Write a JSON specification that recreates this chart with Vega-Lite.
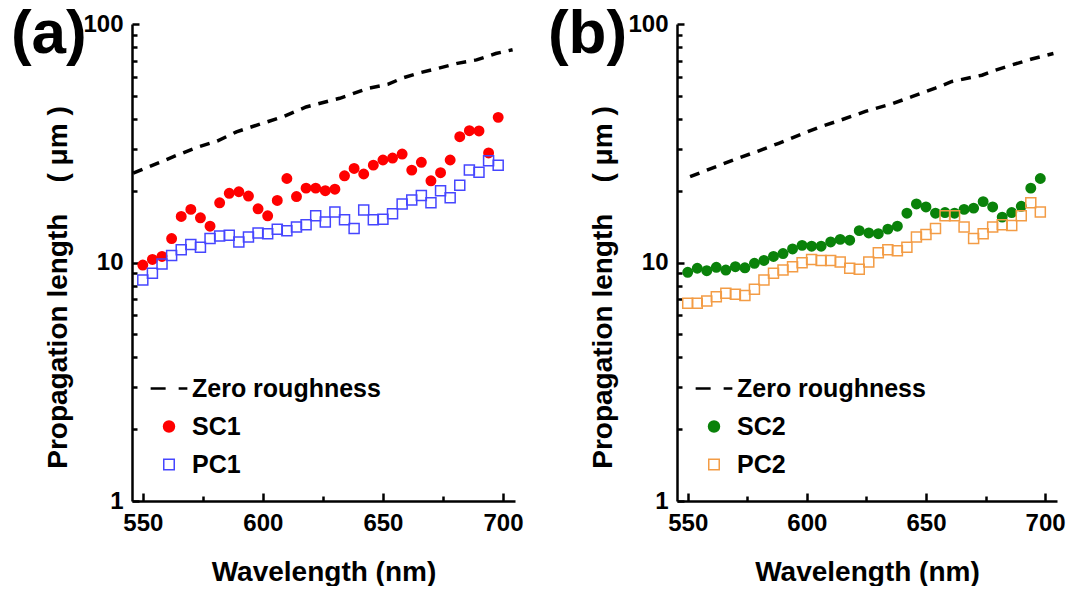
{
  "$schema": "https://vega.github.io/schema/vega-lite/v6.json",
  "padding": {"left": 10, "top": 3, "right": 0, "bottom": 0},
  "background": "white",
  "datasets": {
    "a": [
      {"s": "Zero roughness", "wl": 546, "v": 23.7}, {"s": "Zero roughness", "wl": 555, "v": 25.8}, {"s": "Zero roughness", "wl": 564, "v": 28.1}, {"s": "Zero roughness", "wl": 573, "v": 30.5}, {"s": "Zero roughness", "wl": 581, "v": 32.3}, {"s": "Zero roughness", "wl": 589, "v": 35.3}, {"s": "Zero roughness", "wl": 599, "v": 38.1}, {"s": "Zero roughness", "wl": 608, "v": 40.7}, {"s": "Zero roughness", "wl": 618, "v": 44.9}, {"s": "Zero roughness", "wl": 632, "v": 48.8}, {"s": "Zero roughness", "wl": 644, "v": 53.8}, {"s": "Zero roughness", "wl": 652, "v": 55.8}, {"s": "Zero roughness", "wl": 658, "v": 59.3}, {"s": "Zero roughness", "wl": 665, "v": 62.3}, {"s": "Zero roughness", "wl": 672, "v": 64.8}, {"s": "Zero roughness", "wl": 681, "v": 68.4}, {"s": "Zero roughness", "wl": 689, "v": 70.7}, {"s": "Zero roughness", "wl": 697, "v": 75.2}, {"s": "Zero roughness", "wl": 704, "v": 78.0},
      {"s": "SC1", "wl": 550, "v": 9.76}, {"s": "SC1", "wl": 554, "v": 10.3}, {"s": "SC1", "wl": 558, "v": 10.6}, {"s": "SC1", "wl": 562, "v": 12.6}, {"s": "SC1", "wl": 566, "v": 15.6}, {"s": "SC1", "wl": 570, "v": 16.7}, {"s": "SC1", "wl": 574, "v": 15.4}, {"s": "SC1", "wl": 578, "v": 14.2}, {"s": "SC1", "wl": 582, "v": 17.8}, {"s": "SC1", "wl": 586, "v": 19.5}, {"s": "SC1", "wl": 590, "v": 19.8}, {"s": "SC1", "wl": 594, "v": 19.0}, {"s": "SC1", "wl": 598, "v": 16.8}, {"s": "SC1", "wl": 602, "v": 15.7}, {"s": "SC1", "wl": 606, "v": 18.2}, {"s": "SC1", "wl": 610, "v": 22.5}, {"s": "SC1", "wl": 614, "v": 18.9}, {"s": "SC1", "wl": 618, "v": 20.5}, {"s": "SC1", "wl": 622, "v": 20.5}, {"s": "SC1", "wl": 626, "v": 20.0}, {"s": "SC1", "wl": 630, "v": 20.3}, {"s": "SC1", "wl": 634, "v": 23.1}, {"s": "SC1", "wl": 638, "v": 24.8}, {"s": "SC1", "wl": 642, "v": 23.5}, {"s": "SC1", "wl": 646, "v": 25.6}, {"s": "SC1", "wl": 650, "v": 26.9}, {"s": "SC1", "wl": 654, "v": 27.4}, {"s": "SC1", "wl": 658, "v": 28.5}, {"s": "SC1", "wl": 662, "v": 24.4}, {"s": "SC1", "wl": 666, "v": 26.3}, {"s": "SC1", "wl": 670, "v": 22.0}, {"s": "SC1", "wl": 674, "v": 23.8}, {"s": "SC1", "wl": 678, "v": 26.9}, {"s": "SC1", "wl": 682, "v": 33.7}, {"s": "SC1", "wl": 686, "v": 35.7}, {"s": "SC1", "wl": 690, "v": 35.6}, {"s": "SC1", "wl": 694, "v": 28.8}, {"s": "SC1", "wl": 698, "v": 40.6},
      {"s": "PC1", "wl": 550, "v": 8.45}, {"s": "PC1", "wl": 554, "v": 9.01}, {"s": "PC1", "wl": 558, "v": 9.86}, {"s": "PC1", "wl": 562, "v": 10.7}, {"s": "PC1", "wl": 566, "v": 11.3}, {"s": "PC1", "wl": 570, "v": 11.9}, {"s": "PC1", "wl": 574, "v": 11.6}, {"s": "PC1", "wl": 578, "v": 12.6}, {"s": "PC1", "wl": 582, "v": 12.9}, {"s": "PC1", "wl": 586, "v": 13.0}, {"s": "PC1", "wl": 590, "v": 12.2}, {"s": "PC1", "wl": 594, "v": 12.8}, {"s": "PC1", "wl": 598, "v": 13.3}, {"s": "PC1", "wl": 602, "v": 13.2}, {"s": "PC1", "wl": 606, "v": 13.8}, {"s": "PC1", "wl": 610, "v": 13.6}, {"s": "PC1", "wl": 614, "v": 14.1}, {"s": "PC1", "wl": 618, "v": 14.4}, {"s": "PC1", "wl": 622, "v": 15.7}, {"s": "PC1", "wl": 626, "v": 14.8}, {"s": "PC1", "wl": 630, "v": 16.3}, {"s": "PC1", "wl": 634, "v": 15.1}, {"s": "PC1", "wl": 638, "v": 13.9}, {"s": "PC1", "wl": 642, "v": 16.6}, {"s": "PC1", "wl": 646, "v": 15.1}, {"s": "PC1", "wl": 650, "v": 15.2}, {"s": "PC1", "wl": 654, "v": 16.0}, {"s": "PC1", "wl": 658, "v": 17.6}, {"s": "PC1", "wl": 662, "v": 18.3}, {"s": "PC1", "wl": 666, "v": 19.1}, {"s": "PC1", "wl": 670, "v": 17.8}, {"s": "PC1", "wl": 674, "v": 20.0}, {"s": "PC1", "wl": 678, "v": 18.7}, {"s": "PC1", "wl": 682, "v": 21.1}, {"s": "PC1", "wl": 686, "v": 24.4}, {"s": "PC1", "wl": 690, "v": 23.9}, {"s": "PC1", "wl": 694, "v": 26.7}, {"s": "PC1", "wl": 698, "v": 25.6}
    ],
    "b": [
      {"s": "Zero roughness", "wl": 551, "v": 22.9}, {"s": "Zero roughness", "wl": 561.7, "v": 25.2}, {"s": "Zero roughness", "wl": 570.8, "v": 27.3}, {"s": "Zero roughness", "wl": 579.9, "v": 29.4}, {"s": "Zero roughness", "wl": 588.2, "v": 31.6}, {"s": "Zero roughness", "wl": 598, "v": 34.6}, {"s": "Zero roughness", "wl": 605.7, "v": 37.1}, {"s": "Zero roughness", "wl": 614.1, "v": 39.5}, {"s": "Zero roughness", "wl": 624.6, "v": 43.0}, {"s": "Zero roughness", "wl": 635.8, "v": 46.3}, {"s": "Zero roughness", "wl": 644.1, "v": 49.6}, {"s": "Zero roughness", "wl": 653.9, "v": 53.8}, {"s": "Zero roughness", "wl": 660.9, "v": 57.4}, {"s": "Zero roughness", "wl": 673.5, "v": 61.0}, {"s": "Zero roughness", "wl": 679, "v": 64.0}, {"s": "Zero roughness", "wl": 686, "v": 67.3}, {"s": "Zero roughness", "wl": 694.4, "v": 71.3}, {"s": "Zero roughness", "wl": 703.5, "v": 75.2},
      {"s": "SC2", "wl": 550, "v": 9.1}, {"s": "SC2", "wl": 554, "v": 9.46}, {"s": "SC2", "wl": 558, "v": 9.24}, {"s": "SC2", "wl": 562, "v": 9.55}, {"s": "SC2", "wl": 566, "v": 9.3}, {"s": "SC2", "wl": 570, "v": 9.6}, {"s": "SC2", "wl": 574, "v": 9.5}, {"s": "SC2", "wl": 578, "v": 9.92}, {"s": "SC2", "wl": 582, "v": 10.2}, {"s": "SC2", "wl": 586, "v": 10.6}, {"s": "SC2", "wl": 590, "v": 10.9}, {"s": "SC2", "wl": 594, "v": 11.4}, {"s": "SC2", "wl": 598, "v": 11.8}, {"s": "SC2", "wl": 602, "v": 11.7}, {"s": "SC2", "wl": 606, "v": 11.7}, {"s": "SC2", "wl": 610, "v": 12.2}, {"s": "SC2", "wl": 614, "v": 12.5}, {"s": "SC2", "wl": 618, "v": 12.4}, {"s": "SC2", "wl": 622, "v": 13.6}, {"s": "SC2", "wl": 626, "v": 13.3}, {"s": "SC2", "wl": 630, "v": 13.2}, {"s": "SC2", "wl": 634, "v": 13.8}, {"s": "SC2", "wl": 638, "v": 14.2}, {"s": "SC2", "wl": 642, "v": 16.1}, {"s": "SC2", "wl": 646, "v": 17.6}, {"s": "SC2", "wl": 650, "v": 17.1}, {"s": "SC2", "wl": 654, "v": 16.1}, {"s": "SC2", "wl": 658, "v": 16.2}, {"s": "SC2", "wl": 662, "v": 16.1}, {"s": "SC2", "wl": 666, "v": 16.7}, {"s": "SC2", "wl": 670, "v": 16.9}, {"s": "SC2", "wl": 674, "v": 18.0}, {"s": "SC2", "wl": 678, "v": 17.1}, {"s": "SC2", "wl": 682, "v": 15.5}, {"s": "SC2", "wl": 686, "v": 16.2}, {"s": "SC2", "wl": 690, "v": 17.2}, {"s": "SC2", "wl": 694, "v": 20.5}, {"s": "SC2", "wl": 698, "v": 22.5},
      {"s": "PC2", "wl": 550, "v": 6.75}, {"s": "PC2", "wl": 554, "v": 6.75}, {"s": "PC2", "wl": 558, "v": 6.9}, {"s": "PC2", "wl": 562, "v": 7.19}, {"s": "PC2", "wl": 566, "v": 7.43}, {"s": "PC2", "wl": 570, "v": 7.36}, {"s": "PC2", "wl": 574, "v": 7.27}, {"s": "PC2", "wl": 578, "v": 7.72}, {"s": "PC2", "wl": 582, "v": 8.45}, {"s": "PC2", "wl": 586, "v": 9.01}, {"s": "PC2", "wl": 590, "v": 9.3}, {"s": "PC2", "wl": 594, "v": 9.6}, {"s": "PC2", "wl": 598, "v": 9.98}, {"s": "PC2", "wl": 602, "v": 10.3}, {"s": "PC2", "wl": 606, "v": 10.2}, {"s": "PC2", "wl": 610, "v": 10.2}, {"s": "PC2", "wl": 614, "v": 10.06}, {"s": "PC2", "wl": 618, "v": 9.46}, {"s": "PC2", "wl": 622, "v": 9.37}, {"s": "PC2", "wl": 626, "v": 10.06}, {"s": "PC2", "wl": 630, "v": 11.0}, {"s": "PC2", "wl": 634, "v": 11.3}, {"s": "PC2", "wl": 638, "v": 11.2}, {"s": "PC2", "wl": 642, "v": 11.6}, {"s": "PC2", "wl": 646, "v": 12.8}, {"s": "PC2", "wl": 650, "v": 13.1}, {"s": "PC2", "wl": 654, "v": 13.9}, {"s": "PC2", "wl": 658, "v": 15.7}, {"s": "PC2", "wl": 662, "v": 15.7}, {"s": "PC2", "wl": 666, "v": 14.1}, {"s": "PC2", "wl": 670, "v": 12.6}, {"s": "PC2", "wl": 674, "v": 13.2}, {"s": "PC2", "wl": 678, "v": 14.1}, {"s": "PC2", "wl": 682, "v": 14.4}, {"s": "PC2", "wl": 686, "v": 14.3}, {"s": "PC2", "wl": 690, "v": 15.7}, {"s": "PC2", "wl": 694, "v": 17.8}, {"s": "PC2", "wl": 698, "v": 16.3}
    ]
  },
  "config": {
    "font": "Liberation Sans",
    "view": {"stroke": null},
    "axis": {
      "grid": false, "domainColor": "black", "domainWidth": 2.5, "tickColor": "black", "tickWidth": 2.5,
      "labelColor": "black", "labelFontSize": 24, "labelFontWeight": "bold", "labelFont": "Liberation Sans",
      "titleColor": "black", "titleFontSize": 28, "titleFontWeight": "bold", "titleFont": "Liberation Sans",
      "labelFlush": false, "labelOverlap": false
    },
    "legend": {
      "orient": "none", "padding": 0, "symbolSize": 110, "labelLimit": 400,
      "labelFontSize": 25, "labelFontWeight": "bold", "labelColor": "black", "labelFont": "Liberation Sans",
      "labelOffset": 10.5, "rowPadding": 12, "legendX": 24.5, "legendY": 352
    },
    "title": {"fontSize": 62, "fontWeight": "bold", "color": "black", "font": "Liberation Sans", "anchor": "start", "frame": "bounds", "offset": 0}
  },
  "spacing": 23,
  "resolve": {
    "scale": {"fill": "independent", "stroke": "independent", "shape": "independent", "strokeWidth": "independent", "strokeDash": "independent"},
    "legend": {"fill": "independent", "stroke": "independent", "shape": "independent", "strokeWidth": "independent", "strokeDash": "independent"}
  },
  "hconcat": [
    {
      "width": 383, "height": 477,
      "title": {"text": "(a)", "dx": -34, "dy": 58},
      "data": {"name": "a"},
      "encoding": {
        "x": {"field": "wl", "type": "quantitative", "scale": {"domain": [545.5, 705], "nice": false, "zero": false},
          "axis": {"title": "Wavelength (nm)", "values": [550, 575, 600, 625, 650, 675, 700], "format": "d",
            "labelExpr": "datum.value % 50 == 0 ? datum.label : ''",
            "tickSize": {"condition": {"test": "datum.value % 50 == 0", "value": -8}, "value": -5},
            "labelPadding": 18, "titlePadding": 20}},
        "y": {"field": "v", "type": "quantitative", "scale": {"type": "log", "domain": [1, 100], "nice": false},
          "axis": {"title": "Propagation length\u00a0\u00a0\u00a0\u00a0(\u00a0μm\u00a0)", "values": [1, 2, 3, 4, 5, 6, 7, 8, 9, 10, 20, 30, 40, 50, 60, 70, 80, 90, 100], "format": "d",
            "labelExpr": "datum.value == 1 || datum.value == 10 || datum.value == 100 ? datum.label : ''",
            "tickSize": {"condition": {"test": "datum.value == 1 || datum.value == 10 || datum.value == 100", "value": -7}, "value": -5},
            "labelPadding": 16, "titlePadding": 10, "titleY": 263}},
        "stroke": {"field": "s", "type": "nominal", "title": null,
          "scale": {"domain": ["Zero roughness", "SC1", "PC1"], "range": ["black", "#ff0000", "#4646ff"]}}
      },
      "layer": [
        {"transform": [{"filter": "datum.s == 'SC1'"}], "mark": {"type": "point", "size": 80, "opacity": 1},
          "encoding": {
            "fill": {"field": "s", "type": "nominal", "title": null,
              "scale": {"domain": ["Zero roughness", "SC1", "PC1"], "range": ["transparent", "#ff0000", "transparent"]}},
            "shape": {"field": "s", "type": "nominal", "title": null,
              "scale": {"domain": ["Zero roughness", "SC1", "PC1"], "range": ["M-3.5,0H-0.64M1.84,0H3.5", "circle", "square"]}},
            "strokeWidth": {"field": "s", "type": "nominal", "title": null,
              "scale": {"domain": ["Zero roughness", "SC1", "PC1"], "range": [2.5, 1.5], "padding": 0}}
          }},
        {"transform": [{"filter": "datum.s == 'PC1'"}], "mark": {"type": "point", "size": 100, "opacity": 1},
          "encoding": {
            "fill": {"field": "s", "type": "nominal", "title": null},
            "shape": {"field": "s", "type": "nominal", "title": null},
            "strokeWidth": {"field": "s", "type": "nominal", "title": null}
          }},
        {"transform": [{"filter": "datum.s == 'Zero roughness'"}], "mark": {"type": "line", "strokeWidth": 3.5, "strokeDash": [10, 8]}}
      ]
    },
    {
      "width": 380, "height": 477,
      "title": {"text": "(b)", "dx": -42, "dy": 58},
      "data": {"name": "b"},
      "encoding": {
        "x": {"field": "wl", "type": "quantitative", "scale": {"domain": [545.5, 705], "nice": false, "zero": false},
          "axis": {"title": "Wavelength (nm)", "values": [550, 575, 600, 625, 650, 675, 700], "format": "d",
            "labelExpr": "datum.value % 50 == 0 ? datum.label : ''",
            "tickSize": {"condition": {"test": "datum.value % 50 == 0", "value": -8}, "value": -5},
            "labelPadding": 18, "titlePadding": 20}},
        "y": {"field": "v", "type": "quantitative", "scale": {"type": "log", "domain": [1, 100], "nice": false},
          "axis": {"title": "Propagation length\u00a0\u00a0\u00a0\u00a0(\u00a0μm\u00a0)", "values": [1, 2, 3, 4, 5, 6, 7, 8, 9, 10, 20, 30, 40, 50, 60, 70, 80, 90, 100], "format": "d",
            "labelExpr": "datum.value == 1 || datum.value == 10 || datum.value == 100 ? datum.label : ''",
            "tickSize": {"condition": {"test": "datum.value == 1 || datum.value == 10 || datum.value == 100", "value": -7}, "value": -5},
            "labelPadding": 16, "titlePadding": 10, "titleY": 263}},
        "stroke": {"field": "s", "type": "nominal", "title": null,
          "scale": {"domain": ["Zero roughness", "SC2", "PC2"], "range": ["black", "#0a820a", "#f39c45"]}}
      },
      "layer": [
        {"transform": [{"filter": "datum.s == 'SC2'"}], "mark": {"type": "point", "size": 80, "opacity": 1},
          "encoding": {
            "fill": {"field": "s", "type": "nominal", "title": null,
              "scale": {"domain": ["Zero roughness", "SC2", "PC2"], "range": ["transparent", "#0a820a", "transparent"]}},
            "shape": {"field": "s", "type": "nominal", "title": null,
              "scale": {"domain": ["Zero roughness", "SC2", "PC2"], "range": ["M-3.5,0H-0.64M1.84,0H3.5", "circle", "square"]}},
            "strokeWidth": {"field": "s", "type": "nominal", "title": null,
              "scale": {"domain": ["Zero roughness", "SC2", "PC2"], "range": [2.5, 1.5], "padding": 0}}
          }},
        {"transform": [{"filter": "datum.s == 'PC2'"}], "mark": {"type": "point", "size": 100, "opacity": 1},
          "encoding": {
            "fill": {"field": "s", "type": "nominal", "title": null},
            "shape": {"field": "s", "type": "nominal", "title": null},
            "strokeWidth": {"field": "s", "type": "nominal", "title": null}
          }},
        {"transform": [{"filter": "datum.s == 'Zero roughness'"}], "mark": {"type": "line", "strokeWidth": 3.5, "strokeDash": [10, 8]}}
      ]
    }
  ]
}
